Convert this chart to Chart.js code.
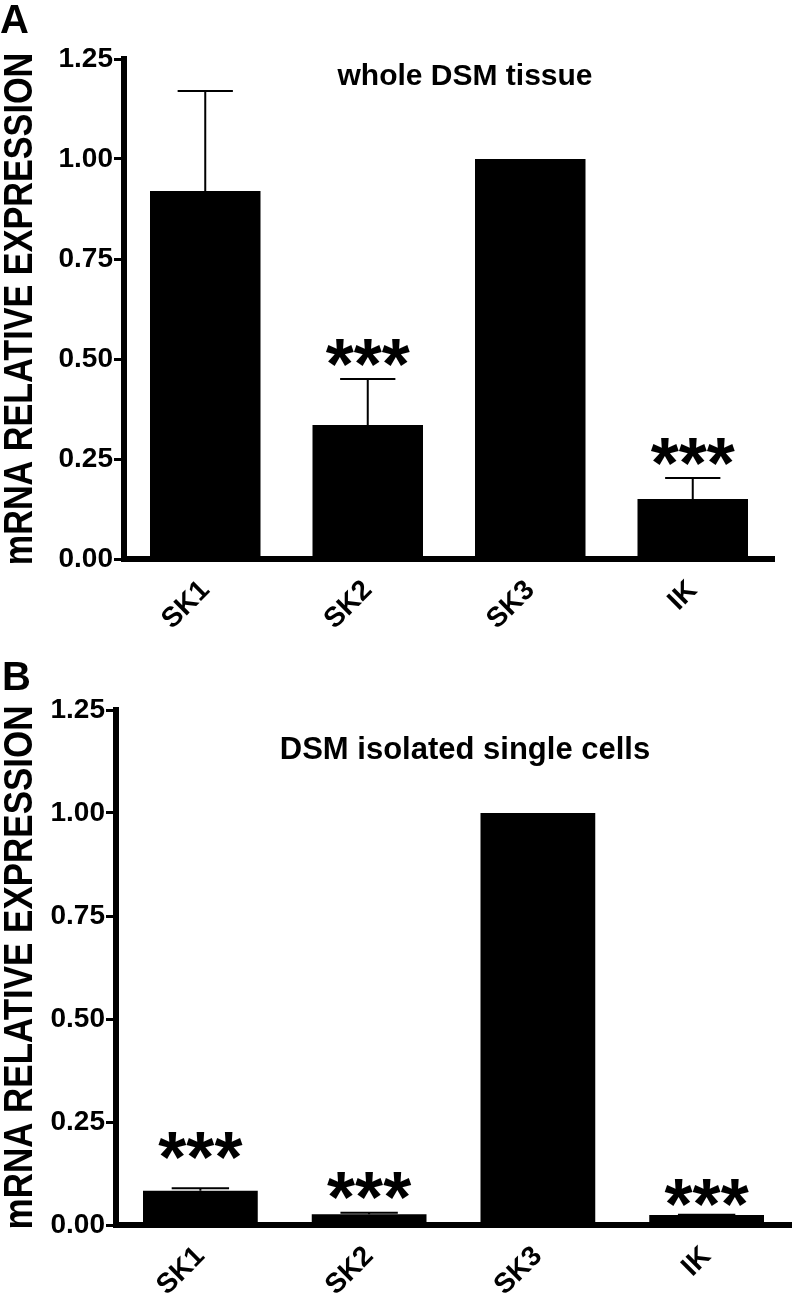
<!DOCTYPE html>
<html>
<head>
<meta charset="utf-8">
<script src="https://cdn.jsdelivr.net/npm/chart.js@4.4.1/dist/chart.umd.min.js"></script>
<style>
  html, body { margin: 0; padding: 0; background: #fff; }
  canvas { display: block; }
</style>
</head>
<body>
<canvas id="chartA" width="794" height="640"></canvas>
<canvas id="chartB" width="794" height="653"></canvas>
<script>
// data
const categories = ["SK1", "SK2", "SK3", "IK"];
const tissueMean = [0.92, 0.335, 1.00, 0.15];
const tissueSem = [0.25, 0.115, 0, 0.0525];
const tissueStars = ["", "***", "", "***"];
const cellsMean = [0.083, 0.026, 1.00, 0.024];
const cellsSem = [0.006, 0.004, 0, 0.001];
const cellsStars = ["***", "***", "", "***"];
const yMin = 0, yMax = 1.25, yStep = 0.25;

const FONT = "'Liberation Sans', Arial, Helvetica, sans-serif";
Chart.defaults.font.family = FONT;
Chart.defaults.font.weight = "bold";
Chart.defaults.color = "#000";

// error bars, asterisks, panel letter, inner title and y-axis title
const extras = {
  id: "extras",
  afterDatasetsDraw(chart, args, o) {
    const ctx = chart.ctx;
    const y = chart.scales.y;
    const meta = chart.getDatasetMeta(0);
    ctx.save();
    ctx.strokeStyle = "#000";
    ctx.fillStyle = "#000";
    ctx.lineWidth = 2;
    o.mean.forEach((m, i) => {
      const bar = meta.data[i];
      const top = y.getPixelForValue(m + o.sem[i]);
      if (o.sem[i]) {
        const cap = bar.width / 4;
        ctx.beginPath();
        ctx.moveTo(bar.x, bar.y);
        ctx.lineTo(bar.x, top);
        ctx.moveTo(bar.x - cap, top);
        ctx.lineTo(bar.x + cap, top);
        ctx.stroke();
      }
      if (o.stars[i]) {
        ctx.font = "bold 72px " + FONT;
        ctx.textAlign = "center";
        ctx.textBaseline = "alphabetic";
        const tm = ctx.measureText(o.stars[i]);
        const cy = top - o.starGap[i];
        const base = cy - (tm.actualBoundingBoxDescent - tm.actualBoundingBoxAscent) / 2;
        ctx.fillText(o.stars[i], bar.x, base);
      }
    });
    ctx.restore();
  },
  afterDraw(chart, args, o) {
    const ctx = chart.ctx;
    const y = chart.scales.y;
    ctx.save();
    ctx.fillStyle = "#000";
    ctx.textBaseline = "alphabetic";
    // panel letter
    ctx.font = "bold 40px " + FONT;
    ctx.textAlign = "left";
    ctx.fillText(o.letter, o.letterX, o.letterY);
    // title inside plot
    ctx.font = "bold " + o.titleSize + "px " + FONT;
    ctx.textAlign = "center";
    ctx.fillText(o.title, o.titleX, o.titleY);
    // condensed vertical axis title
    ctx.translate(o.yTitleX, (y.top + y.bottom) / 2);
    ctx.rotate(-Math.PI / 2);
    ctx.scale(o.yTitleSqueeze, 1);
    ctx.font = "bold 40px " + FONT;
    ctx.fillText("mRNA RELATIVE EXPRESSION", 0, 0);
    ctx.restore();
  }
};

function makeChart(id, mean, sem, stars, axisLeft, pad, xAxisH, extra) {
  return new Chart(document.getElementById(id), {
    type: "bar",
    data: {
      labels: categories,
      datasets: [{
        data: mean,
        backgroundColor: "#000",
        borderWidth: 0,
        barPercentage: 0.68,
        categoryPercentage: 1.0
      }]
    },
    options: {
      responsive: false,
      animation: false,
      layout: { padding: pad },
      plugins: {
        legend: { display: false },
        tooltip: { enabled: false },
        extras: Object.assign({ mean, sem, stars }, extra)
      },
      scales: {
        x: {
          grid: { display: false },
          border: { display: true, color: "#000", width: 6 },
          ticks: {
            color: "#000",
            font: { size: 28, weight: "bold" },
            minRotation: 45,
            maxRotation: 45,
            autoSkip: false,
            padding: 7
          },
          afterFit: (s) => { s.height = xAxisH; }
        },
        y: {
          min: yMin,
          max: yMax,
          grid: { display: true, drawOnChartArea: false, drawTicks: true, tickLength: 10, lineWidth: 3, color: "#000" },
          border: { display: true, color: "#000", width: 6 },
          ticks: {
            stepSize: yStep,
            color: "#000",
            font: { size: 28, weight: "bold" },
            padding: 1,
            callback: (v) => Number(v).toFixed(2)
          },
          afterFit: (s) => { s.width = axisLeft; }
        }
      }
    },
    plugins: [extras]
  });
}

makeChart("chartA", tissueMean, tissueSem, tissueStars, 124,
  { left: 0, right: 20, top: 59, bottom: 0 }, 81,
  { starGap: [27, 27, 27, 27], letter: "A", letterX: 0, letterY: 33,
    title: "whole DSM tissue", titleSize: 30, titleX: 465, titleY: 85,
    yTitleX: 32, yTitleSqueeze: 0.855 });

makeChart("chartB", cellsMean, cellsSem, cellsStars, 116,
  { left: 0, right: 3, top: 70, bottom: 0 }, 68,
  { starGap: [43, 27, 27, 22], letter: "B", letterX: 2, letterY: 50,
    title: "DSM isolated single cells", titleSize: 31, titleX: 465, titleY: 119,
    yTitleX: 32, yTitleSqueeze: 0.874 });
</script>
</body>
</html>
